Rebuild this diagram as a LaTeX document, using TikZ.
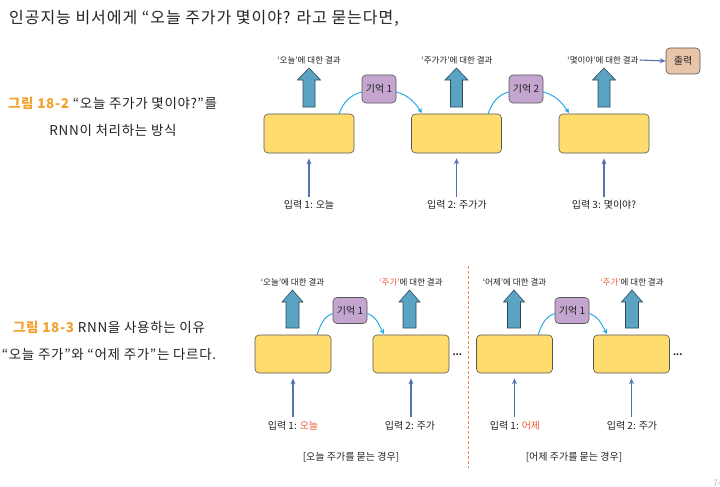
\documentclass[tikz,border=0pt]{standalone}
\usepackage{fontspec}
\setmainfont{Noto Sans CJK KR}
\newfontfamily\wideko[LetterSpace=5]{Noto Sans CJK KR}
\newfontfamily\titleko[LetterSpace=6]{Noto Sans CJK KR}
\usetikzlibrary{arrows.meta}
\definecolor{yfill}{HTML}{FFDC6E}
\definecolor{bord}{HTML}{555555}
\definecolor{pfill}{HTML}{C4A5CF}
\definecolor{tfill}{HTML}{E8C4A8}
\definecolor{blkfill}{HTML}{5AA3C3}
\definecolor{blkbord}{HTML}{2C4A5A}
\definecolor{inblue}{HTML}{5473AE}
\definecolor{curvblue}{HTML}{2AAAE6}
\definecolor{capor}{HTML}{F2A12E}
\definecolor{redtxt}{HTML}{F05A3C}
\definecolor{dashor}{HTML}{F08A50}
\definecolor{txt}{HTML}{222222}
\newcommand{\blkarrow}[6]{%
  \draw[blk] ({#1-#6},#2) -- ({#1-#6},#4) -- ({#1-#5},#4) -- (#1,#3) -- ({#1+#5},#4) -- ({#1+#6},#4) -- ({#1+#6},#2) -- cycle;}
\tikzset{
  ybox/.style={draw=bord, fill=yfill, rounded corners=4pt, minimum width=90pt, minimum height=39pt, line width=0.6pt, inner sep=0pt},
  ybox2/.style={ybox, minimum width=76pt, minimum height=38pt},
  membox/.style={draw=bord, fill=pfill, rounded corners=4pt, minimum width=34pt, minimum height=28pt, line width=0.6pt, inner sep=0pt, font=\fontsize{10}{11}\selectfont, text=txt},
  outbox/.style={draw=bord, fill=tfill, rounded corners=4pt, minimum width=34pt, minimum height=26pt, line width=0.6pt, inner sep=0pt, font=\fontsize{10}{11}\selectfont, text=txt},
  lbl/.style={font=\fontsize{8.5}{10}\selectfont, text=txt, inner sep=1pt},
  inlbl/.style={font=\fontsize{10}{11}\selectfont, text=txt, inner sep=1pt},
  captxt/.style={font=\wideko\fontsize{13.5}{15}\selectfont, text=txt, inner sep=0pt},
  blk/.style={draw=blkbord, fill=blkfill, line width=0.6pt},
  inarrow/.style={draw=inblue, line width=1.1pt, -{Stealth[length=6pt,width=5pt]}},
  curv/.style={draw=curvblue, line width=1pt},
  curva/.style={curv, -{Stealth[length=5pt,width=5pt]}},
}
\begin{document}
\begin{tikzpicture}[x=1pt,y=-1pt]
\useasboundingbox (0,0) rectangle (720,487);

% Titles and captions
\node[anchor=west, font=\titleko\fontsize{16}{18}\selectfont, text=txt, inner sep=0pt] (title) at (9,18) {인공지능 비서에게 “오늘 주가가 몇이야? 라고 묻는다면,};
\node[captxt] (c1a) at (112.5,103) {\textcolor{capor}{\bfseries 그림 18-2} “오늘 주가가 몇이야?”를};
\node[captxt] (c1b) at (113,130) {RNN이 처리하는 방식};
\node[captxt] (c2a) at (109,327) {\textcolor{capor}{\bfseries 그림 18-3} RNN을 사용하는 이유};
\node[captxt] (c2b) at (109,354) {“오늘 주가”와 “어제 주가”는 다르다.};

% ---------- Top diagram ----------
\node[ybox] (t1) at (309,133.5) {};
\node[ybox] (t2) at (456.5,133.5) {};
\node[ybox] (t3) at (604,133.5) {};

\node[membox] (m1) at (379,89) {기억 1};
\node[membox] (m2) at (526,89) {기억 2};

\node[lbl] (o1) at (309,60) {‘오늘’에 대한 결과};
\node[lbl] (o2) at (457,60) {‘주가가’에 대한 결과};
\node[lbl] (o3) at (603,60) {‘몇이야’에 대한 결과};
\node[outbox] (out) at (683,61) {출력};
\draw[inarrow] (o3.east) -- (out.west);

\blkarrow{309}{107}{68}{80}{11.5}{6}
\blkarrow{456.5}{107}{68}{80}{11.5}{6}
\blkarrow{604}{107}{68}{80}{11.5}{6}

\node[inlbl] (i1) at (309,205) {입력 1: 오늘};
\node[inlbl] (i2) at (457,205) {입력 2: 주가가};
\node[inlbl] (i3) at (604,205) {입력 3: 몇이야?};
\draw[inarrow, shorten <=2pt, shorten >=5pt] (i1.north) -- (t1.south);
\draw[inarrow, shorten <=2pt, shorten >=5pt] (i2.north -| t2.south) -- (t2.south);
\draw[inarrow, shorten <=2pt, shorten >=5pt] (i3.north) -- (t3.south);

\coordinate (t1r) at (339,114);
\coordinate (t2l) at (422,113);
\coordinate (t2r) at (488,114);
\coordinate (t3l) at (569,113);
\draw[curv] (t1r) to[out=70, in=195] ([yshift=-3pt]m1.west);
\draw[curva] ([yshift=-3pt]m1.east) to[out=-15, in=125] (t2l);
\draw[curv] (t2r) to[out=70, in=195] ([yshift=-3pt]m2.west);
\draw[curva] ([yshift=-3pt]m2.east) to[out=-15, in=125] (t3l);

% ---------- Bottom diagram ----------
\node[ybox2] (b1) at (293,354) {};
\node[ybox2] (b2) at (411,354) {};
\node[ybox2] (b3) at (514.5,354) {};
\node[ybox2] (b4) at (631.5,354) {};
\node[anchor=west, inner sep=0pt, font=\fontsize{9}{10}\selectfont\bfseries, text=txt] (d1) at ([xshift=3pt,yshift=-1pt]b2.east) {...};
\node[anchor=west, inner sep=0pt, font=\fontsize{9}{10}\selectfont\bfseries, text=txt] (d2) at ([xshift=3pt,yshift=-1pt]b4.east) {...};

\node[membox, minimum height=26pt] (m3) at (350,310.5) {기억 1};
\node[membox, minimum height=26pt] (m4) at (572,310.5) {기억 1};

\node[lbl] (o4) at (292.5,282) {‘오늘’에 대한 결과};
\node[lbl] (o5) at (411,282) {\textcolor{redtxt}{‘주가’}에 대한 결과};
\node[lbl] (o6) at (514.5,282) {‘어제’에 대한 결과};
\node[lbl] (o7) at (632,282) {\textcolor{redtxt}{‘주가’}에 대한 결과};

\blkarrow{292.5}{328}{290}{302}{10.5}{6.5}
\blkarrow{409.5}{328}{290}{302}{10.5}{6.5}
\blkarrow{514}{328}{290}{302}{10.5}{6.5}
\blkarrow{632}{328}{290}{302}{10.5}{6.5}

\node[inlbl] (i4) at (293,426) {입력 1: \textcolor{redtxt}{오늘}};
\node[inlbl] (i5) at (410,426) {입력 2: 주가};
\node[inlbl] (i6) at (515,426) {입력 1: \textcolor{redtxt}{어제}};
\node[inlbl] (i7) at (632,426) {입력 2: 주가};
\draw[inarrow, shorten <=3pt, shorten >=5pt] (i4.north -| b1.south) -- (b1.south);
\draw[inarrow, shorten <=3pt, shorten >=5pt] (i5.north -| b2.south) -- (b2.south);
\draw[inarrow, shorten <=3pt, shorten >=5pt] (i6.north -| b3.south) -- (b3.south);
\draw[inarrow, shorten <=3pt, shorten >=5pt] (i7.north -| b4.south) -- (b4.south);

\coordinate (b1r) at (317,335);
\coordinate (b2l) at (384,334);
\coordinate (b3r) at (538,335);
\coordinate (b4l) at (607,334);
\draw[curv] (b1r) to[out=70, in=200] ([yshift=-3pt]m3.west);
\draw[curva] ([yshift=-3pt]m3.east) to[out=-20, in=120] (b2l);
\draw[curv] (b3r) to[out=70, in=200] ([yshift=-3pt]m4.west);
\draw[curva] ([yshift=-3pt]m4.east) to[out=-20, in=120] (b4l);

\node[inlbl] (k1) at (351,457) {[오늘 주가를 묻는 경우]};
\node[inlbl] (k2) at (574,457) {[어제 주가를 묻는 경우]};

\coordinate (dtop) at (468,266);
\coordinate (dbot) at (468,468);
\draw[dashor, line width=0.9pt, dash pattern=on 3pt off 2pt] (dtop) -- (dbot);

\node[anchor=west, inner sep=0pt, font=\fontsize{9}{10}\selectfont, text=gray!50] (pg) at (713,483) {74};
\end{tikzpicture}
\end{document}
